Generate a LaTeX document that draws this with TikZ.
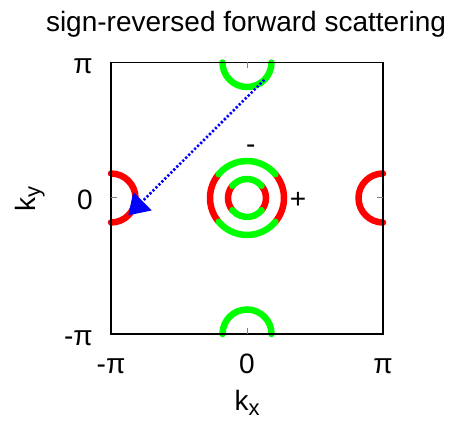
\documentclass[tikz,border=0pt]{standalone}
\usepackage{fontspec}
\setmainfont{Liberation Sans}
\usetikzlibrary{arrows.meta}
\begin{document}
\begin{tikzpicture}[x=1pt,y=1pt,
  lab/.style={font=\fontsize{28}{32}\selectfont, inner sep=0pt},
  fs/.style={line width=6.5pt, line cap=round},
  redarc/.style={fs, draw=red},
  greenarc/.style={fs, draw=green},
  tickmark/.style={draw=gray, line width=1pt},
  frame/.style={draw=black, line width=1.3pt},
  qarrow/.style={draw=blue, line width=2.6pt, dash pattern=on 2.2pt off 2pt,
    -{Triangle[length=20pt,width=26pt,line width=0pt]}}]
\useasboundingbox (0,0) rectangle (454,420);
% centres
\coordinate (G) at (247,222);
\coordinate (T) at (247,357.5);
\coordinate (B) at (247,86);
\coordinate (L) at (111,222);
\coordinate (R) at (383,222);
% central circles
\draw[redarc] ([shift={(-40:37)}]G) arc[start angle=-40,end angle=40,radius=37];
\draw[redarc] ([shift={(140:37)}]G) arc[start angle=140,end angle=220,radius=37];
\draw[greenarc] ([shift={(40:37)}]G) arc[start angle=40,end angle=140,radius=37];
\draw[greenarc] ([shift={(220:37)}]G) arc[start angle=220,end angle=320,radius=37];
\draw[redarc] ([shift={(-40:19)}]G) arc[start angle=-40,end angle=40,radius=19];
\draw[redarc] ([shift={(140:19)}]G) arc[start angle=140,end angle=220,radius=19];
\draw[greenarc] ([shift={(40:19)}]G) arc[start angle=40,end angle=140,radius=19];
\draw[greenarc] ([shift={(220:19)}]G) arc[start angle=220,end angle=320,radius=19];
% pockets
\draw[redarc] ([shift={(-90:24.5)}]L) arc[start angle=-90,end angle=90,radius=24.5];
\draw[redarc] ([shift={(90:24.5)}]R) arc[start angle=90,end angle=270,radius=24.5];
\draw[greenarc] ([shift={(180:24.5)}]T) arc[start angle=180,end angle=360,radius=24.5];
\draw[greenarc] ([shift={(0:24.5)}]B) arc[start angle=0,end angle=180,radius=24.5];
% scattering vector
\coordinate (qs) at ([shift={(-45:24.5)}]T);
\coordinate (qe) at ([shift={(-45:24.5)}]L);
\draw[qarrow] (qs) -- (qe);
% frame and ticks
\draw[frame] (111,86) rectangle (383,357.5);
\draw[tickmark] (T) -- ++(0,-6);
\draw[tickmark] (B) -- ++(0,6);
\draw[tickmark] (L) -- ++(6,0);
\draw[tickmark] (R) -- ++(-6,0);
% labels
\node[lab, anchor=base] (title) at (246,388) {sign-reversed forward scattering};
\node[lab, anchor=base east] (ypi) at (93,346) {π};
\node[lab, anchor=base east] (y0) at (93,210.5) {0};
\node[lab, anchor=base east] (ympi) at (93,74.5) {-π};
\node[lab, anchor=base] (xmpi) at (111,47) {-π};
\node[lab, anchor=base] (x0) at (247,47) {0};
\node[lab, anchor=base] (xpi) at (383,47) {π};
\node[lab, anchor=base] (kx) at (247,10) {k\raisebox{-5pt}{\fontsize{22}{22}\selectfont x}};
\node[lab, anchor=base, rotate=90] (ky) at (35,221) {k\raisebox{-5pt}{\fontsize{22}{22}\selectfont y}};
\node[lab] (minus) at (250.7,271) {-};
\node[lab] (plus) at (298,220) {+};
\end{tikzpicture}
\end{document}
